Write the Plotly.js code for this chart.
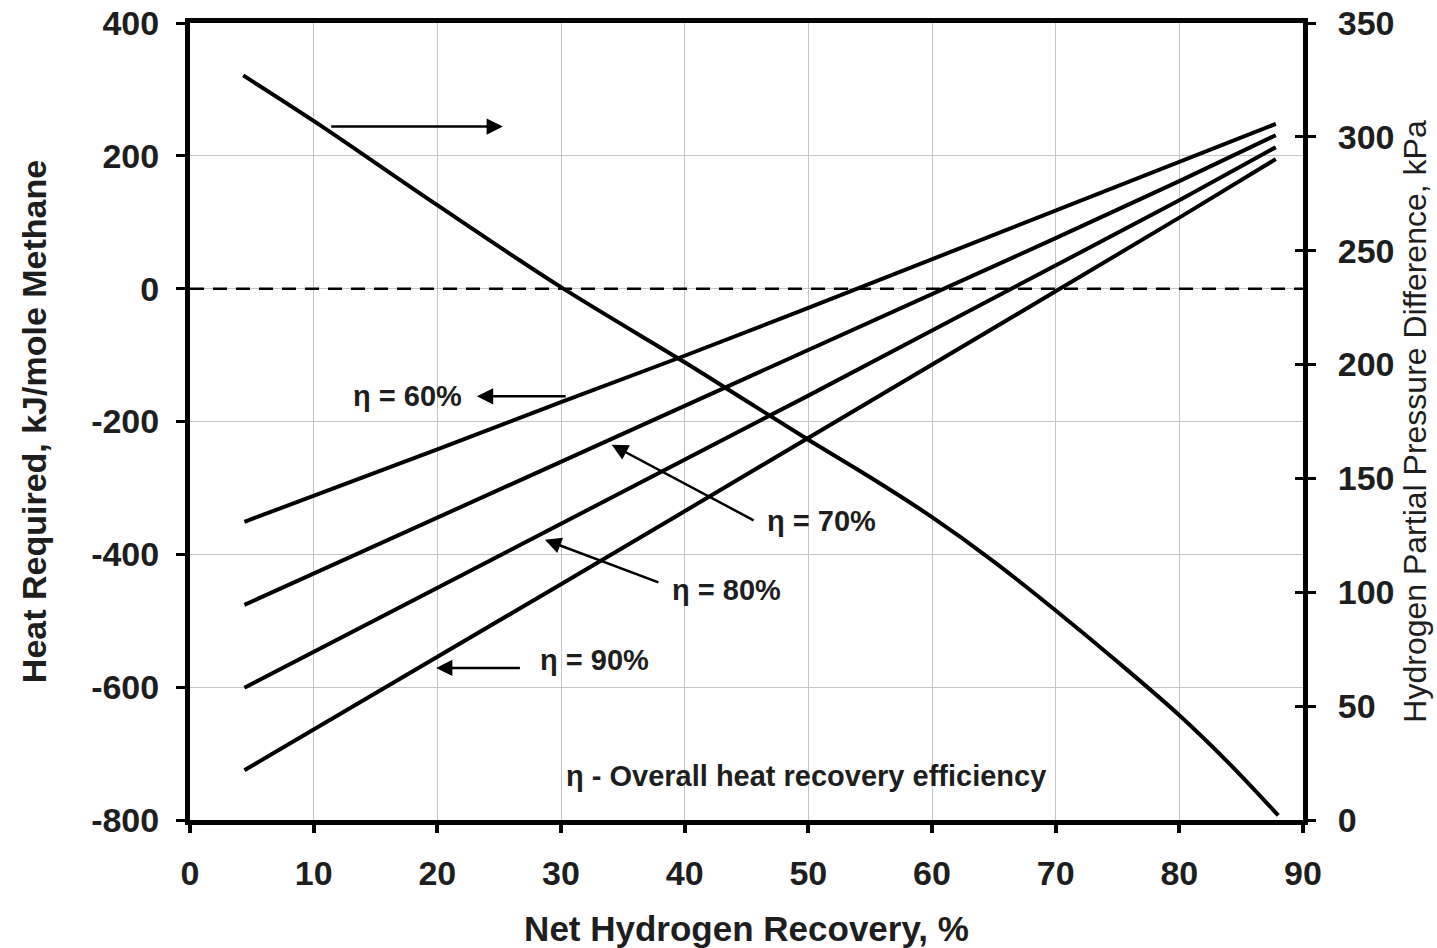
<!DOCTYPE html>
<html>
<head>
<meta charset="utf-8">
<script src="https://cdn.plot.ly/plotly-3.0.1.min.js"></script>
<style>html,body{margin:0;padding:0;background:#fff;}#chart{width:1437px;height:948px;}</style>
</head>
<body>
<div id="chart"></div>
<script>
// Net hydrogen recovery, %
const recoveryHeat = [4.4, 10, 20, 30, 40, 50, 60, 70, 80, 87.8];
// Heat required, kJ/mole methane, for overall heat recovery efficiency η
const heatEta60 = [-351, -312, -242, -171, -101, -29, 44, 117, 190, 248];
const heatEta70 = [-476, -429, -345, -261, -177, -93, -9, 76, 162, 231];
const heatEta80 = [-601, -547, -451, -355, -258, -161, -63, 35, 133, 213];
const heatEta90 = [-725, -664, -555, -445, -335, -225, -115, -4, 107, 195];
// Hydrogen partial pressure difference, kPa
const recoveryPressure = [4.3, 10, 20, 30, 40, 45, 50, 55, 60, 65, 70, 75, 80, 84, 88];
const pressureDiff = [327, 307, 270, 234, 201, 184, 167, 150.5, 133, 113.5, 92, 69.5, 46, 25, 2];

const xTicks = [0, 10, 20, 30, 40, 50, 60, 70, 80, 90];
const yLeftTicks = [-800, -600, -400, -200, 0, 200, 400];
const yRightTicks = [0, 50, 100, 150, 200, 250, 300, 350];

const FONT = 'Arial, "Liberation Sans", sans-serif';
const INK = '#1e1e1e';
const lineStyle = {color: '#000', width: 4};

const traces = [
  {x: recoveryHeat, y: heatEta60, mode: 'lines', line: lineStyle, name: 'η = 60%', yaxis: 'y'},
  {x: recoveryHeat, y: heatEta70, mode: 'lines', line: lineStyle, name: 'η = 70%', yaxis: 'y'},
  {x: recoveryHeat, y: heatEta80, mode: 'lines', line: lineStyle, name: 'η = 80%', yaxis: 'y'},
  {x: recoveryHeat, y: heatEta90, mode: 'lines', line: lineStyle, name: 'η = 90%', yaxis: 'y'},
  {x: recoveryPressure, y: pressureDiff, mode: 'lines', line: {color: '#000', width: 4, shape: 'spline', smoothing: 1}, name: 'ΔP H2', yaxis: 'y2'},
  // empty trace to activate yaxis3 (inner half of the crossing ticks on the right axis)
  {x: [null], y: [null], yaxis: 'y3', mode: 'lines', hoverinfo: 'skip', showlegend: false}
];

function arrow(xh, yh, xt, yt) {
  return {x: xh, y: yh, ax: xt, ay: yt, xref: 'x', yref: 'y', axref: 'x', ayref: 'y',
    text: '', showarrow: true, arrowhead: 2, arrowsize: 1.3, arrowwidth: 2.5, arrowcolor: '#000', standoff: 0, startstandoff: 0};
}
function label(x, y, t, size) {
  return {x: x, y: y, xref: 'x', yref: 'y', text: t, showarrow: false,
    font: {family: FONT, size: size || 29, color: INK, weight: 'bold'}};
}

const tickFont = {family: FONT, size: 34, color: INK, weight: 'bold'};

const layout = {
  width: 1437, height: 948,
  margin: {l: 190, r: 134, t: 23, b: 128},
  paper_bgcolor: '#fff', plot_bgcolor: '#fff',
  showlegend: false,
  font: {family: FONT, color: INK},
  xaxis: {
    range: [0, 90], tickvals: xTicks, ticktext: xTicks.map(String),
    showgrid: true, gridcolor: '#c4c4c4', gridwidth: 1, zeroline: false,
    showline: true, linecolor: '#000', linewidth: 5, mirror: true,
    ticks: 'outside', ticklen: 8, tickwidth: 4, tickcolor: '#000', ticklabelstandoff: 11,
    tickfont: tickFont,
    title: {text: 'Net Hydrogen Recovery, %', font: {family: FONT, size: 35, color: INK, weight: 'bold'}, standoff: 30}
  },
  yaxis: {
    range: [-800, 400], tickvals: yLeftTicks, ticktext: yLeftTicks.map(String),
    showgrid: true, gridcolor: '#c4c4c4', gridwidth: 1, zeroline: false,
    showline: true, linecolor: '#000', linewidth: 5,
    ticks: 'outside', ticklen: 9, tickwidth: 3, tickcolor: '#000', ticklabelstandoff: 10,
    tickfont: tickFont,
    title: {text: 'Heat Required, kJ/mole Methane', font: {family: FONT, size: 34, color: INK, weight: 'bold'}, standoff: 36}
  },
  yaxis2: {
    overlaying: 'y', side: 'right', range: [0, 350], tickvals: yRightTicks, ticktext: yRightTicks.map(String),
    showgrid: false, zeroline: false,
    showline: true, linecolor: '#000', linewidth: 5,
    ticks: 'outside', ticklen: 8, tickwidth: 3, tickcolor: '#000', ticklabelstandoff: 15,
    tickfont: tickFont,
    title: {text: 'Hydrogen Partial Pressure Difference, kPa', font: {family: FONT, size: 32, color: INK}, standoff: 12}
  },
  yaxis3: {
    overlaying: 'y', side: 'right', range: [0, 350], tickvals: yRightTicks,
    showticklabels: false, showgrid: false, zeroline: false, showline: false,
    ticks: 'inside', ticklen: 8, tickwidth: 3, tickcolor: '#000'
  },
  shapes: [
    {type: 'line', xref: 'paper', x0: 0, x1: 1, yref: 'y', y0: 0, y1: 0,
      line: {color: '#000', width: 2.5, dash: '14px,9px'}}
  ],
  annotations: [
    arrow(25.3, 244, 11.3, 244),
    arrow(23.2, -162, 30.5, -162),
    arrow(34.1, -235, 45.7, -350),
    arrow(28.7, -378, 38.0, -443),
    arrow(19.9, -571, 26.8, -571),
    label(17.6, -162, 'η = 60%'),
    label(51.1, -350, 'η = 70%'),
    label(43.4, -453, 'η = 80%'),
    label(32.7, -559, 'η = 90%'),
    label(49.8, -733, 'η - Overall heat recovery efficiency', 29)
  ]
};

Plotly.newPlot('chart', traces, layout, {displayModeBar: false, staticPlot: true});
</script>
</body>
</html>
